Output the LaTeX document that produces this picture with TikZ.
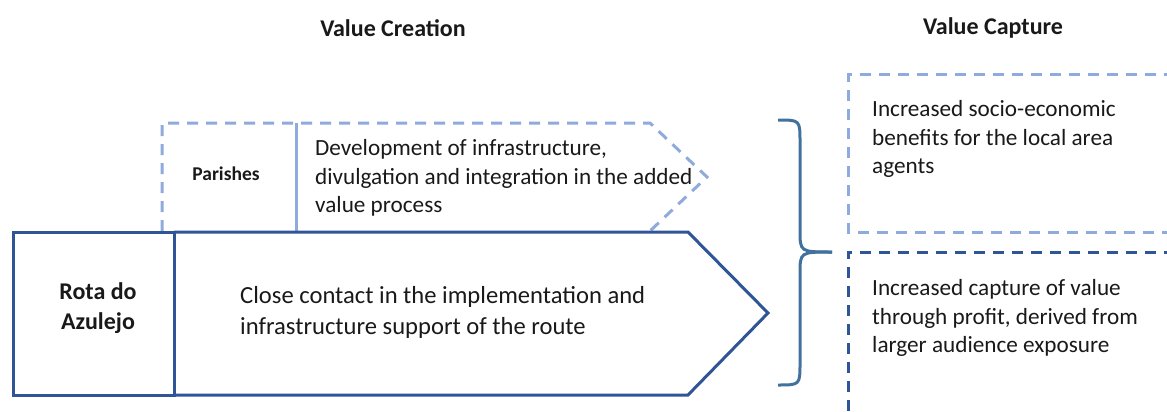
\documentclass[tikz,border=0pt]{standalone}
\usepackage{fontspec}
\setmainfont{Carlito}
\definecolor{lightblue}{HTML}{8FAADC}
\definecolor{darkblue}{HTML}{2F5597}
\definecolor{bracecol}{HTML}{41719C}
\tikzset{
  lightdash/.style={draw=lightblue, line width=3pt, dash pattern=on 11pt off 8pt},
  darkdash/.style={draw=darkblue, line width=3pt, dash pattern=on 11pt off 8pt},
  solidbox/.style={draw=darkblue, line width=3pt, line join=miter},
  txt/.style={align=left, inner sep=0pt, text=black!90, font=\fontsize{23.2}{28.8}\selectfont},
  bigtxt/.style={align=left, inner sep=0pt, text=black!90, font=\fontsize{24.6}{31}\selectfont},
  heading/.style={inner sep=0pt, text=black!90, font=\bfseries\fontsize{24}{28}\selectfont}
}
\begin{document}
\begin{tikzpicture}[x=1pt, y=-1pt]
    \useasboundingbox (0, 0) rectangle (1167, 412);
    \clip (0, 0) rectangle (1167, 412);

    \node[heading] (creation) at (393, 28) {Value Creation};
    \node[heading] (capture) at (993, 28) {Value Capture};

    % value creation
    \draw[lightdash] (162, 231) -- (162, 123) -- (650, 123) -- (707, 177) -- (650, 231);
    \draw[draw=lightblue, line width=3pt] (296, 123) -- (296, 231);
    \draw[solidbox] (13, 232) rectangle (174, 395);
    \draw[solidbox] (174, 232) -- (688, 232) -- (768, 313) -- (688, 395) -- (174, 395);

    \node[heading, font=\bfseries\fontsize{19.5}{23}\selectfont] (parishes) at (226, 174) {Parishes};
    \node[txt, anchor=west] (develop) at (315, 178) {Development of infrastructure,\\divulgation and integration in the added\\value process};
    \node[bigtxt, align=center, font=\bfseries\fontsize{24}{30}\selectfont] (rota) at (98, 308) {Rota do\\Azulejo};
    \node[bigtxt, anchor=west] (contact) at (240, 312) {Close contact in the implementation and\\infrastructure support of the route};

    % brace
    \draw[bracecol, line width=3pt] (778, 120) .. controls (800, 120) .. (800, 142) -- (800, 230) .. controls (800, 252) .. (832, 252);
    \draw[bracecol, line width=3pt] (832, 252) .. controls (800, 252) .. (800, 274) -- (800, 363) .. controls (800, 385) .. (778, 385);

    % value capture
    \draw[lightdash] (1175, 75) -- (848, 75) -- (848, 232) -- (1175, 232);
    \draw[darkdash] (1175, 252) -- (848, 252) -- (848, 420);

    \node[txt, anchor=west] (socio) at (872, 139) {Increased socio-economic\\benefits for the local area\\agents};
    \node[txt, anchor=west] (profit) at (872, 318) {Increased capture of value\\through profit, derived from\\larger audience exposure};
\end{tikzpicture}
\end{document}
